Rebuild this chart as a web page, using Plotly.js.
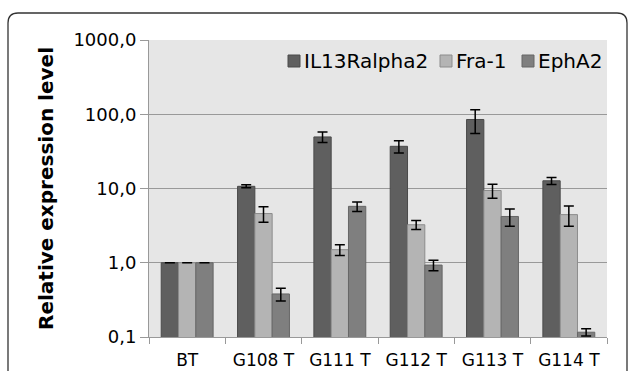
<!DOCTYPE html>
<html>
<head>
<meta charset="utf-8">
<script src="https://cdn.plot.ly/plotly-3.0.1.min.js"></script>
<style>
html,body{margin:0;padding:0;background:#fff;}
#chart{width:629px;height:371px;}
</style>
</head>
<body>
<div id="chart"></div>
<script>
// ---- data ----
const categories = ["BT", "G108 T", "G111 T", "G112 T", "G113 T", "G114 T"];
const seriesNames = ["IL13Ralpha2", "Fra-1", "EphA2"];
const il13Values = [1.0, 10.7, 49.5, 37.0, 85.0, 12.7];
const il13Errors = [0, 0.5, 8.0, 7.0, 30.0, 1.4];
const fra1Values = [1.0, 4.6, 1.5, 3.25, 9.4, 4.45];
const fra1Errors = [0, 1.1, 0.25, 0.45, 2.0, 1.35];
const epha2Values = [1.0, 0.38, 5.75, 0.93, 4.2, 0.116];
const epha2Errors = [0, 0.075, 0.85, 0.15, 1.1, 0.013];
const yTickVals = [0.1, 1, 10, 100, 1000];
const yTickText = ["0,1", "1,0", "10,0", "100,0", "1000,0"];
const yTitle = "Relative expression level";

// ---- styles ----
const FONT = "'DejaVu Sans', 'Liberation Sans', Arial, sans-serif";
const fills = ["#5f5f5f", "#b4b4b4", "#7f7f7f"];
const edges = ["#4a4a4a", "#8c8c8c", "#666666"];
const valueSets = [il13Values, fra1Values, epha2Values];
const errorSets = [il13Errors, fra1Errors, epha2Errors];

const traces = seriesNames.map((name, i) => ({
  type: "bar",
  name: name,
  x: categories,
  y: valueSets[i],
  showlegend: false,
  marker: {color: fills[i], line: {color: edges[i], width: 1}},
  error_y: {type: "data", array: errorSets[i], visible: true, color: "#000", thickness: 1.5, width: 5}
}));

// plot area in pixels
const W = 629, H = 371;
const L = 149, R = 607, T = 40, B = 337;
const px = x => (x - L) / (R - L);
const py = y => (B - y) / (B - T);

// rounded frame
const fx0 = 8, fy0 = 13, fx1 = 627, fy1 = 400, rr = 10;
const framePath = [
  "M", px(fx0), py(fy1),
  "L", px(fx0), py(fy0 + rr),
  "Q", px(fx0), py(fy0), px(fx0 + rr), py(fy0),
  "L", px(fx1 - rr), py(fy0),
  "Q", px(fx1), py(fy0), px(fx1), py(fy0 + rr),
  "L", px(fx1), py(fy1)
].join(" ");

// custom legend (square glued to text, Excel style)
const legSquareX = [288, 440, 522];
const legY = 61, sq = 12;
const shapes = [{
  type: "path", xref: "paper", yref: "paper", path: framePath,
  line: {color: "#333", width: 1.3}, layer: "above"
}];
const annotations = [];
seriesNames.forEach((name, i) => {
  const x0 = legSquareX[i];
  shapes.push({
    type: "rect", xref: "paper", yref: "paper",
    x0: px(x0), x1: px(x0 + sq), y0: py(legY + sq / 2), y1: py(legY - sq / 2),
    fillcolor: fills[i], line: {color: edges[i], width: 1}, layer: "above"
  });
  annotations.push({
    xref: "paper", yref: "paper", x: px(x0 + sq + 2), y: py(legY),
    xanchor: "left", yanchor: "middle", showarrow: false,
    text: name, font: {size: 20, color: "#000", family: FONT}
  });
});

const layout = {
  width: W, height: H,
  margin: {l: L, r: W - R, t: T, b: H - B, pad: 0},
  paper_bgcolor: "#ffffff",
  plot_bgcolor: "#e6e6e6",
  font: {family: FONT, size: 18, color: "#000"},
  barmode: "group",
  bargap: 0.32,
  bargroupgap: 0,
  showlegend: false,
  xaxis: {
    type: "category",
    showgrid: false,
    showline: true, linecolor: "#999", linewidth: 1,
    ticks: "outside", tickson: "boundaries", ticklen: 6, tickcolor: "#999",
    tickfont: {size: 17},
    tickangle: 0,
    ticklabelstandoff: 8,
    fixedrange: true
  },
  yaxis: {
    type: "log",
    range: [-1, 3],
    tickvals: yTickVals, ticktext: yTickText,
    showgrid: true, gridcolor: "#999", gridwidth: 1,
    showline: true, linecolor: "#999", linewidth: 1,
    ticks: "outside", ticklen: 8, tickcolor: "#999",
    tickfont: {size: 18},
    zeroline: false,
    title: {text: "<b>" + yTitle + "</b>", font: {size: 20}, standoff: 14},
    fixedrange: true
  },
  shapes: shapes,
  annotations: annotations
};

Plotly.newPlot("chart", traces, layout, {displayModeBar: false, staticPlot: true});
</script>
</body>
</html>
